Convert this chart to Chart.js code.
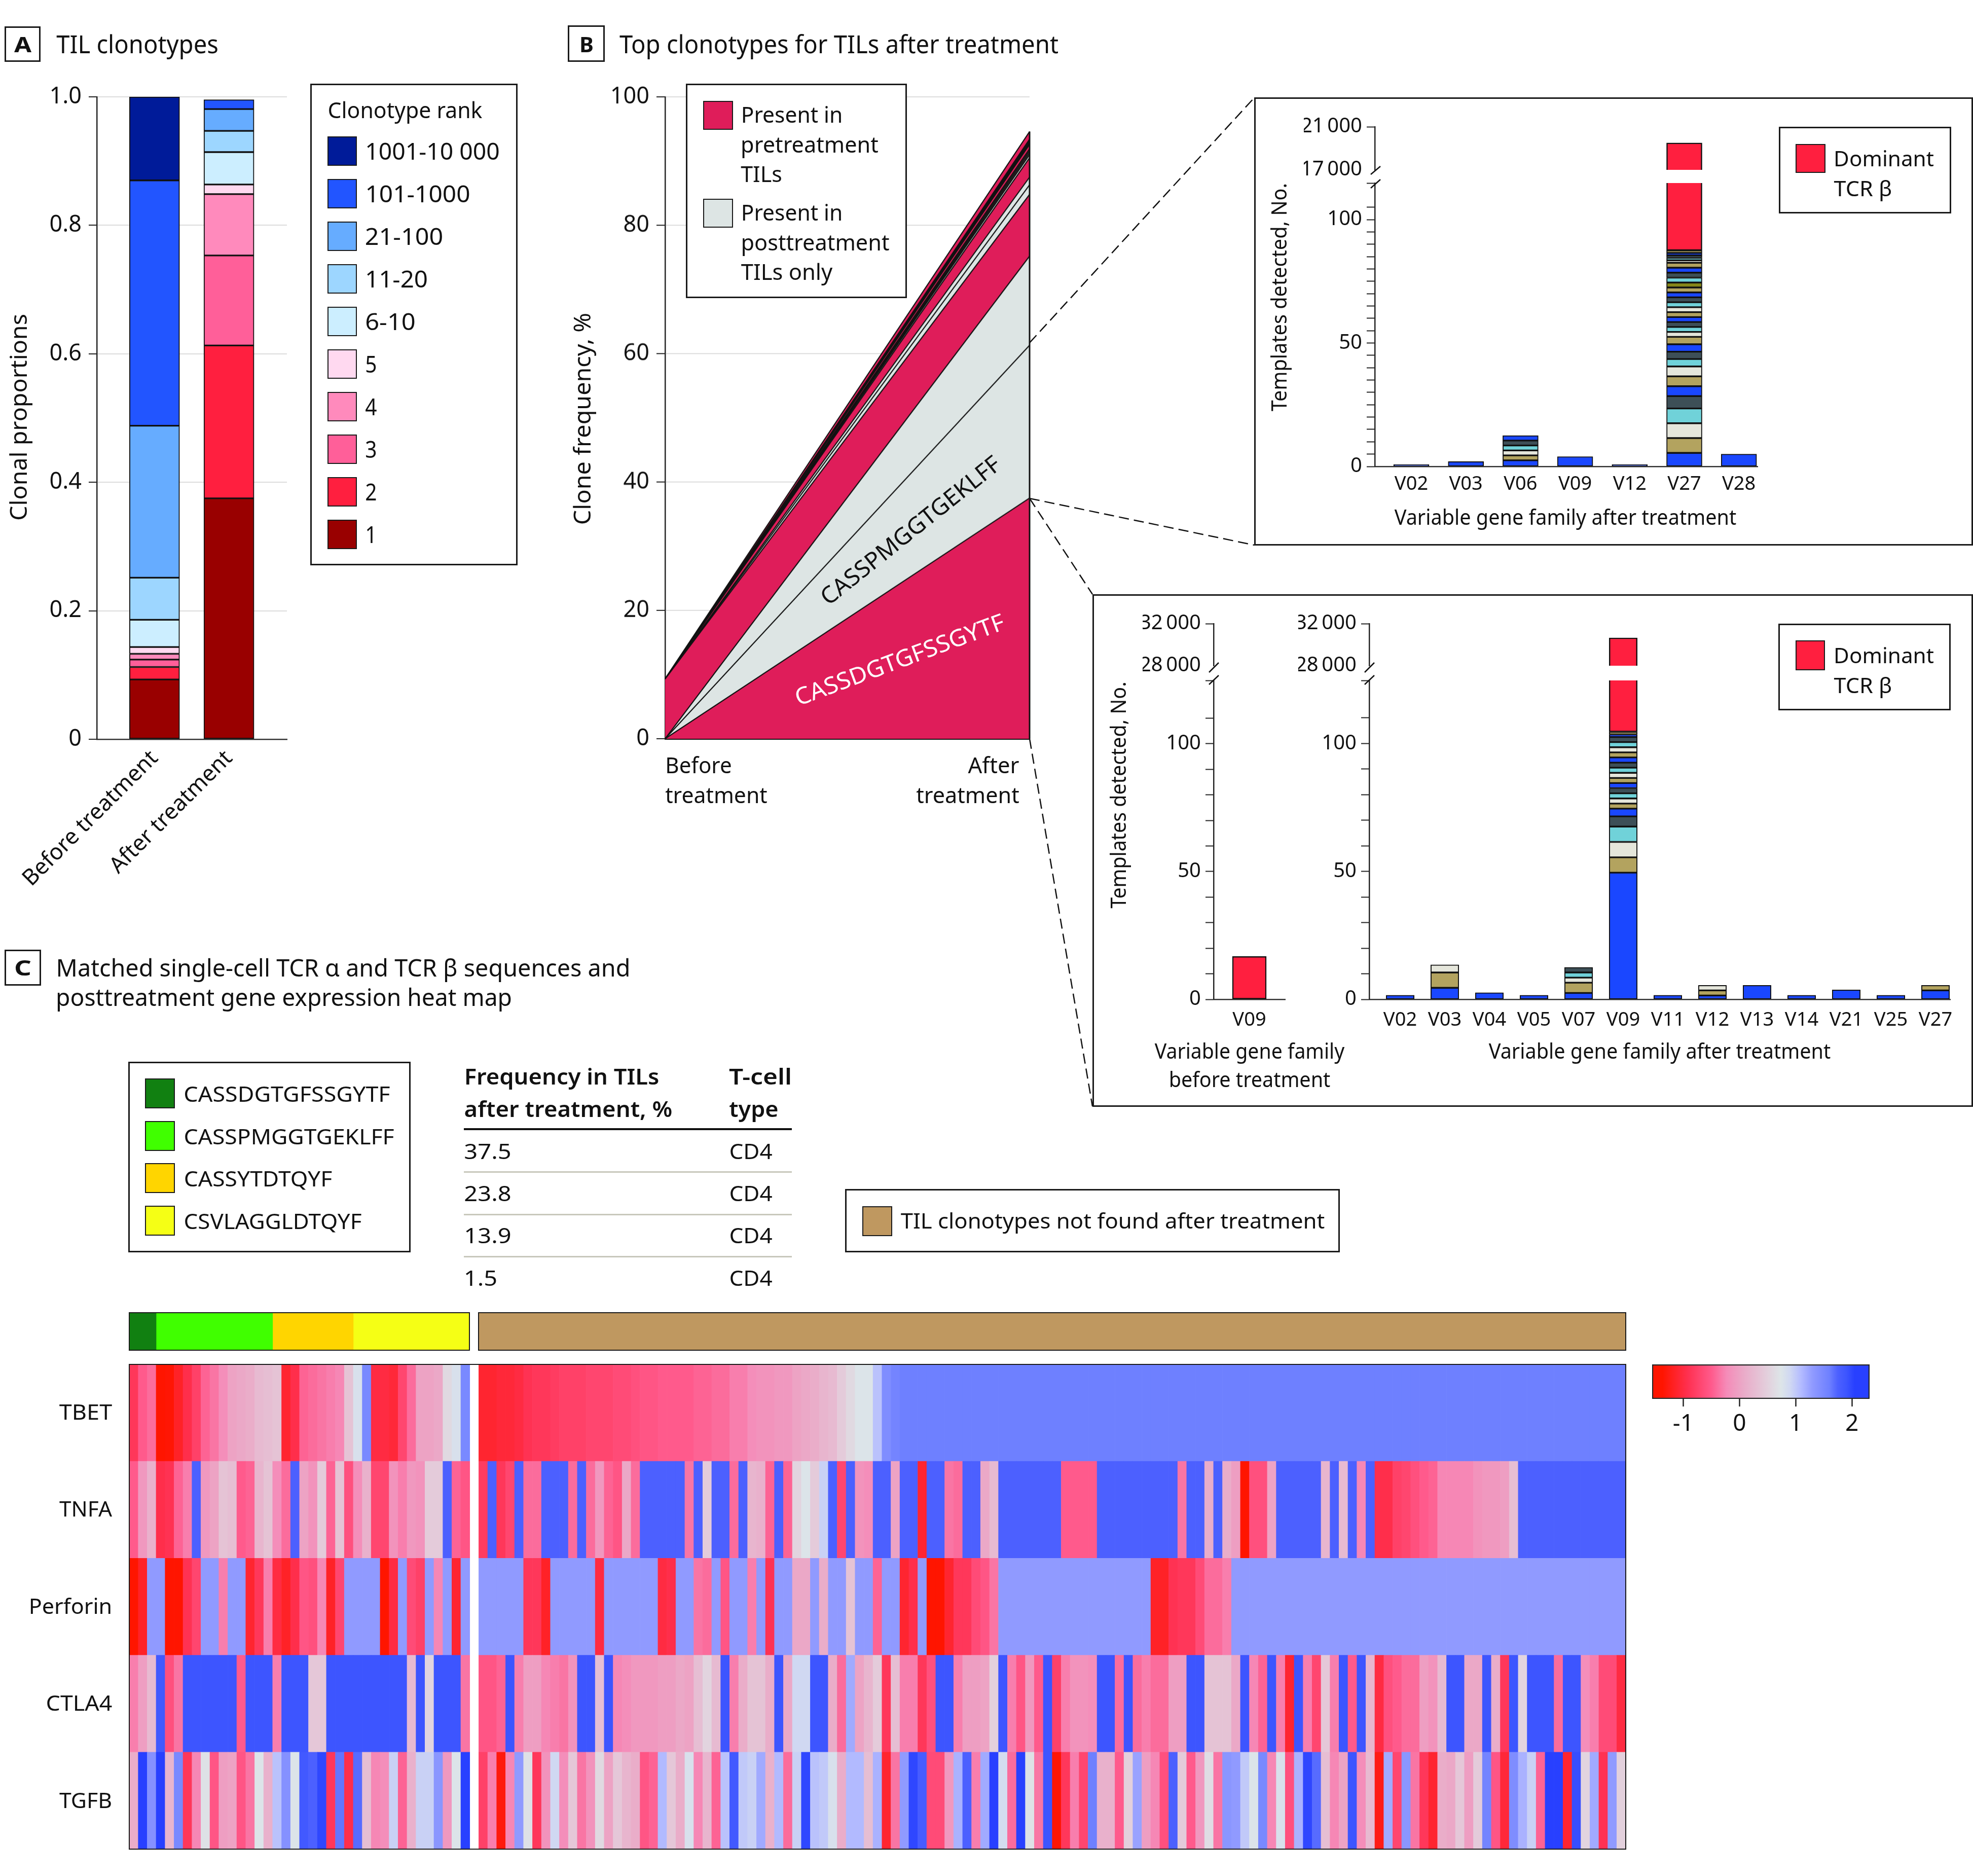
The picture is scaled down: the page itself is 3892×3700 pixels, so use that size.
<!DOCTYPE html>
<html><head><meta charset="utf-8">
<script src="https://cdn.jsdelivr.net/npm/chart.js@4"></script>
<style>
html,body{margin:0;padding:0;background:#fff}
#page{position:relative;width:3892px;height:3700px;overflow:hidden;background:#fff;font-family:"Noto Sans",sans-serif;color:#111}
canvas{position:absolute}
.t{position:absolute;white-space:pre;line-height:1.2}
.b{position:absolute;box-sizing:border-box;border:3px solid #1a1a1a}
svg{position:absolute;left:0;top:0}
</style></head><body><div id="page"></div>
<script>
// ---------- Panel A data ----------
const rankNames=['1','2','3','4','5','6-10','11-20','21-100','101-1000','1001-10 000'];
const rankBefore=[.093,.0195,.0115,.009,.0105,.0425,.0655,.2365,.382,.13];
const rankAfter=[.375,.238,.14,.0955,.015,.0505,.033,.034,.0146,0];
const rankColors=['#990000','#ff1f3f','#ff5f99','#ff8abc','#ffd9f0','#cceeff','#9dd6ff','#66acff','#2255ff','#001b99'];
const treatmentLabels=['Before treatment','After treatment'];
const proportionTicks=[0,.2,.4,.6,.8,1];
// ---------- Panel B data (stack order, before / after) ----------
const cloneBefore=[0,0,0,9.3,0,0,0,0,0,0,0,0,0,0,0,.05];
const cloneAfter=[37.5,23.8,13.9,9.6,1.5,1.2,3,.5,.3,.3,.3,.7,.25,.25,.3,1.2];
const cloneColors=['#df1d5a','#dde5e4','#dde5e4','#df1d5a','#dde5e4','#dde5e4','#df1d5a','#dde5e4','#fff','#fff','#df1d5a','#df1d5a','#111','#111','#111','#df1d5a'];
// ---------- Panel B inset 1 ----------
const famA=['V02','V03','V06','V09','V12','V27','V28'];
const a02=[.8],a03=[2],a06=[2.5,2,2,2,2,2],a09=[4],a12=[.8];
const a27=[5.5,6,6,6,5,4,4,4,3,3,3,3,2,2,2,2,2,2,2,2,2,2,2,2,2,2,2,1,1,1,1,1];
const a28=[5];
const domA=[null,null,null,null,null,19500,null];
// ---------- Panel B inset 2 ----------
const famB=['V02','V03','V04','V05','V07','V09','V11','V12','V13','V14','V21','V25','V27'];
const b02=[1.6],b03=[4.5,6,3],b04=[2.6],b05=[1.6],b07=[2.5,4,2,2,2];
const b09=[49.5,6,6,6,4,3,2,2,2,2,2,2,2,2,2,2,2,2,2,2,1,1];
const b11=[1.6],b12=[1.5,2,2],b13=[5.5],b14=[1.6],b21=[3.7],b25=[1.6],b27=[3.5,2];
const domB=[null,null,null,null,null,30650,null,null,null,null,null,null,null];
const famBefore=['V09'];
const domBefore=[16.8];
// ---------- Panel C heat map ----------
const genes=['TBET','TNFA','Perforin','CTLA4','TGFB'];
const tbetL=[-.85,-.5,-.4,-1.4,-1.35,-1.15,-.95,-.75,-.45,-.35,-.2,0,.05,.1,.25,.3,.35,-1.1,-.95,-.45,-.4,-.35,-.3,-.25,.35,.8,1.5,-1,-1,-1.05,-.7,-.4,0,0,.05,.6,.8,1.5];
const tnfaL=[-.5,-.1,.15,-.95,-.9,-.45,-.3,1.75,-.1,0,.35,.3,-.5,-.45,.2,.35,-.2,-.4,1.75,0,-.15,.45,-.45,.35,-.6,-.2,.15,-.7,-.7,-.15,-.3,-.1,-.15,.45,.45,1.75,-.45,-.55];
const prfL=[-1.4,-1.15,1.3,1.3,-1.45,-1.45,-.9,-.7,1.3,1.3,-.3,1.3,1.3,-1.1,-.85,-.3,-1,-1.15,-.95,-.55,-.6,-.25,-1.15,-.7,1.3,1.3,1.3,1.3,-1.45,-1,1.3,-.65,-.75,1.3,-.25,1.3,-1.1,1.3];
const ctlaL=[-.3,-.05,.25,1.85,-.6,-.35,1.9,1.9,1.9,1.9,1.9,1.9,-.5,1.9,1.9,1.9,-.3,1.9,1.9,1.9,.4,.4,1.9,1.9,1.9,1.9,1.9,1.9,1.9,1.9,1.9,.25,1.9,.55,1.9,1.9,1.9,-.35];
const tgfbL=[.1,2.05,1.4,2.05,.2,1.5,-.85,-.25,.7,-.55,-.05,0,-.55,-.35,.75,.15,1.05,1.4,.75,1.85,1.75,2,-.85,1.65,-.95,1.7,.3,-.25,-.2,.95,-.45,.15,.95,.95,1.35,-.1,.75,2.05];
const tbetR=[-1.1,-1.1,-1.05,-1.05,-1,-.9,-.85,-.85,-.8,-.75,
-.75,-.75,-.7,-.7,-.7,-.65,-.65,-.6,-.55,-.55,
-.5,-.5,-.5,-.5,-.45,-.45,-.4,-.4,-.3,-.3,
-.2,-.15,-.15,-.1,-.1,0,.05,.1,.2,.25,
.45,.6,.75,.75,1.05,1.45,1.55,1.6,1.6,1.6,
1.6,1.6,1.6,1.6,1.6,1.6,1.6,1.6,1.6,1.6,
1.6,1.6,1.6,1.6,1.6,1.6,1.6,1.6,1.6,1.6,
1.6,1.6,1.6,1.6,1.6,1.6,1.6,1.6,1.6,1.6,
1.6,1.6,1.6,1.6,1.6,1.6,1.6,1.6,1.6,1.6,
1.6,1.6,1.6,1.6,1.6,1.6,1.6,1.6,1.6,1.6,
1.6,1.6,1.6,1.6,1.6,1.6,1.6,1.6,1.6,1.6,
1.6,1.6,1.6,1.6,1.6,1.6,1.6,1.6,1.6,1.6,
1.6,1.6,1.6,1.6,1.6,1.6,1.6,1.6];
const tnfaR=[-.8,1.75,-.85,-.7,1.75,-.4,-.4,1.75,1.75,1.75,
-.4,1.75,-.4,-.1,-.45,-.55,.05,-.4,1.75,1.75,
1.75,1.75,1.75,-.35,1.75,.45,1.75,1.75,-.4,1.75,
.2,.15,-.45,1.75,-.45,.55,.75,.45,.95,1.75,
-.7,1.75,-.15,-.2,1.75,1.75,0,1.75,1.75,-1.1,
1.75,1.75,-.35,-.4,1.75,1.75,.05,.25,1.75,1.75,
1.75,1.75,1.75,1.75,1.75,-.5,-.5,-.5,-.5,1.75,
1.75,1.75,1.75,1.75,1.75,1.75,1.75,1.75,-.35,1.75,
1.75,.1,1.75,.1,-.05,-1.4,-.6,-.6,0,1.75,
1.75,1.75,1.75,1.75,.2,1.75,.25,1.75,-.25,1.75,
-.95,-.95,-.75,-.7,-.6,-.5,-.45,-.25,-.25,-.25,
-.25,-.15,-.1,-.1,-.05,.3,1.75,1.75,1.75,1.75,
1.75,1.75,1.75,1.75,1.75,1.75,1.75,1.75];
const prfR=[1.3,1.3,1.3,1.3,1.3,-.85,-.85,-1.15,1.3,1.3,
1.3,1.3,1.3,-1,1.3,1.3,1.3,1.3,1.3,1.3,
-1,-.95,1.3,1.3,-.35,-.4,1.3,-.55,1.3,1.3,
-.3,1.3,-.9,1.3,1.3,.05,.05,1.3,.1,1.3,
1.3,.35,1.3,1.3,-.45,1.3,1.3,-1.1,-.95,1.3,
-1.45,-1.45,-1.1,-.85,-.85,-.65,-.55,-.35,1.3,1.3,
1.3,1.3,1.3,1.3,1.3,1.3,1.3,1.3,1.3,1.3,
1.3,1.3,1.3,1.3,1.3,-1.15,-1.15,-.9,-.85,-.85,
-.65,-.4,-.4,-.3,1.3,1.3,1.3,1.3,1.3,1.3,
1.3,1.3,1.3,1.3,1.3,1.3,1.3,1.3,1.3,1.3,
1.3,1.3,1.3,1.3,1.3,1.3,1.3,1.3,1.3,1.3,
1.3,1.3,1.3,1.3,1.3,1.3,1.3,1.3,1.3,1.3,
1.3,1.3,1.3,1.3,1.3,1.3,1.3,1.3];
const ctlaR=[-.55,-.55,-.45,1.9,-.3,-.05,-.05,-.25,-.3,-.35,
-.15,1.9,1.9,.3,1.9,-.25,-.2,-.1,-.1,-.1,
-.05,-.05,.05,0,.3,.55,.25,1.9,-.3,.1,
.35,.35,.1,1.9,.05,.9,.9,1.9,1.9,.1,
-.4,1.2,0,.2,.45,-.85,.3,-.3,-.3,-.85,
-.6,1.9,1.9,-.3,-.05,-.05,0,.5,1.9,-.3,
-.55,-.1,-.5,1.9,-.75,-.3,-.15,-.15,-.2,1.9,
1.9,-.4,1.9,-.4,-.3,-.4,-.4,-.05,-.05,1.9,
1.9,.35,.35,.35,.05,1.9,-.25,-.45,1.9,-.3,
-1.1,1.9,-.3,-.7,.4,-.3,1.9,-.5,1.9,.2,
-1,-.6,-.5,-.4,-.4,-.05,-.15,.25,1.9,1.9,
.05,.05,1.9,.1,-.85,1.9,.55,1.9,1.9,1.9,
-.4,1.9,1.9,-.2,-.3,-.65,-.65,-1];
const tgfbR=[-.75,-.3,-1.3,-.25,1.3,.7,-.85,-.15,.9,-.2,
.4,-.35,-.15,.6,0,.4,.2,.1,-.55,-.45,
1.1,.4,.1,.8,-.25,.2,-.45,1.05,1.85,1,
.95,1.2,.15,1.1,-.4,.95,2,1.05,1,.8,
.1,1.1,1.1,.3,1.15,-1.1,-.35,1.3,2,1.8,
-.65,-.65,-.1,1.15,1.75,-.3,1.2,2.05,.85,-.4,
2.05,.7,-.35,1.9,-1.35,-.85,-.3,-.7,1.6,.15,
.15,-.5,.5,1.25,-.05,-.25,-.6,1.75,.45,-.5,
-.1,.65,-.35,1.35,1.3,1,.75,1.5,-.25,.8,
-.6,1.15,2,1.7,.3,-.25,0,1.9,-.2,.25,
-1.25,1.2,-.7,1.35,-.35,-.85,-1.1,.1,.05,.4,
-.05,.45,1.55,-.55,-1.05,1.45,1.15,.95,-.45,2.05,
2.05,-1.1,1.95,.55,1.2,-.9,1.3,.5];
const annotNames=['CASSDGTGFSSGYTF','CASSPMGGTGEKLFF','CASSYTDTQYF','CSVLAGGLDTQYF','gap','TIL clonotypes not found after treatment'];
const annotCells=[3,13,9,13,1,128];
const annotColors=['#118011','#40ff00','#ffd500','#f5ff15','rgba(0,0,0,0)','#bf9860'];
const colorbarTicks=[-1,0,1,2];
const tableFreq=['37.5','23.8','13.9','1.5'];
const tableType=['CD4','CD4','CD4','CD4'];

// ---------- helpers ----------
const page=document.getElementById('page');
const FF='"Noto Sans", sans-serif';
const INK='#111';
Chart.defaults.font.family=FF;
Chart.defaults.color=INK;
Chart.defaults.animation=false;
function chart(plot,m,cfg){
  const c=document.createElement('canvas');
  const W=plot.r-plot.l+m.l+m.r,H=plot.b-plot.t+m.t+m.b;
  c.width=W;c.height=H;c.style.left=(plot.l-m.l)+'px';c.style.top=(plot.t-m.t)+'px';c.style.width=W+'px';c.style.height=H+'px';
  page.appendChild(c);
  cfg.options=Object.assign({responsive:false,maintainAspectRatio:false,animation:false,devicePixelRatio:1,
    layout:{padding:{left:cfg.yShown?0:m.l,top:m.t,right:m.r,bottom:cfg.xShown?0:m.b}},
    plugins:{legend:{display:false},tooltip:{enabled:false},title:{display:false}}},cfg.options);
  return new Chart(c,cfg);
}
function yAxis(min,max,step,size,labelFn,w,extra,pad){
  return Object.assign({type:'linear',stacked:true,min,max,
    afterFit(s){s.width=w;s.paddingTop=0;s.paddingBottom=0},
    ticks:{stepSize:step,font:{size},padding:pad||9,color:INK,autoSkip:false,callback:labelFn},
    grid:{drawOnChartArea:false,drawTicks:true,tickLength:16,tickColor:'#222',tickWidth:2},
    border:{display:true,color:'#222',width:2.5}},extra||{});
}
function xLinear(labels,first,step,l,r,size,h,pad,extra){
  return Object.assign({type:'linear',offset:false,stacked:true,min:(l-first)/step,max:(r-first)/step,
    afterBuildTicks(s){s.ticks=labels.map((_,i)=>({value:i}))},
    afterFit(s){s.height=h;s.paddingLeft=0;s.paddingRight=0},
    ticks:{autoSkip:false,font:{size},padding:pad,color:INK,maxRotation:0,minRotation:0,callback:v=>labels[v]},
    grid:{display:false,drawTicks:false,offset:false},
    border:{display:true,color:'#333',width:2.5}},extra||{});
}
function T(str,x0,x1,cy,size,o){
  o=o||{};
  const d=document.createElement('div');d.className='t';d.textContent=str;
  d.style.fontSize=size+'px';d.style.fontWeight=o.w||400;d.style.color=o.c||INK;
  page.appendChild(d);
  const tw=d.offsetWidth,sx=(x1-x0)/tw;
  d.style.left=((x0+x1)/2)+'px';d.style.top=cy+'px';
  d.style.transform='translate(-50%,-50%) rotate('+(o.rot||0)+'deg) scaleX('+sx+')';
  return d;
}
function TL(str,cx,y0,y1,size,o){
  o=o||{};
  const len=y1-y0,cy=(y0+y1)/2;
  T(str,cx-len/2,cx+len/2,cy,size,Object.assign({rot:-90},o));
}
function box(l,t,r,b,bg,bw){
  const d=document.createElement('div');d.className='b';
  d.style.left=l+'px';d.style.top=t+'px';d.style.width=(r-l)+'px';d.style.height=(b-t)+'px';
  if(bg)d.style.background=bg;if(bw)d.style.borderWidth=bw+'px';
  page.appendChild(d);return d;
}
const slotCycle=['#1a47ff','#b3a35f','#e5e6db','#70d2d9','#3d4f57'];
function stackSets(cats,thick,overrides){
  const n=Math.max(...cats.map(a=>a.length)),out=[];
  for(let j=0;j<n;j++){
    const data=[];cats.forEach((a,i)=>{if(a[j]!=null)data.push({x:i,y:a[j]})});
    const col=(overrides&&overrides[j])||slotCycle[j%5];
    out.push({label:'clone '+(j+1),data,backgroundColor:col,borderColor:'#111',borderWidth:2,borderSkipped:false,barThickness:thick});
  }
  return out;
}
function domSet(vals,thick){
  const data=[];vals.forEach((v,i)=>{if(v!=null)data.push({x:i,y:v})});
  return {label:'Dominant TCR β',data,backgroundColor:'#ff1f3f',borderColor:'#111',borderWidth:2.5,borderSkipped:false,barThickness:thick};
}
const thin=v=>{const s=String(v);return s.length>3?s.slice(0,-3)+'\u2009'+s.slice(-3):s};

// ---------- Panel A ----------
const axA=xLinear(treatmentLabels,304.5,147,190.6,566,44,300,12);
axA.ticks.minRotation=45;axA.ticks.maxRotation=45;
chart({l:190.6,r:566,t:190.5,b:1457.5},{l:190,r:10,t:30,b:300},{type:'bar',yShown:true,xShown:true,
  data:{datasets:rankNames.map((n,i)=>({label:n,data:[{x:0,y:rankBefore[i]},{x:1,y:rankAfter[i]}].filter(p=>p.y>0),
    backgroundColor:rankColors[i],borderColor:'#111',borderWidth:2,borderSkipped:false,barThickness:99}))},
  options:{scales:{
    x:axA,
    y:Object.assign(yAxis(0,1,.2,45,v=>v===0?'0':v.toFixed(1),190,null,14),{
      afterBuildTicks(s){s.ticks=proportionTicks.map(v=>({value:v}))},
      grid:{drawOnChartArea:true,color:'#dcdcdc',lineWidth:2,drawTicks:true,tickLength:16,tickColor:'#222',tickWidth:2}})
  }}});

// ---------- Panel B ----------
const edgePlugin={id:'edge',afterDatasetsDraw(ch){
  const {ctx,scales:{x,y}}=ch;const sum=cloneAfter.reduce((a,b)=>a+b,0);
  ctx.save();ctx.strokeStyle='#111';ctx.lineWidth=3;ctx.beginPath();
  ctx.moveTo(x.getPixelForValue(1),y.getPixelForValue(0));ctx.lineTo(x.getPixelForValue(1),y.getPixelForValue(sum));ctx.stroke();ctx.restore();
}};
chart({l:1311.7,r:2031,t:191,b:1456.5},{l:140,r:4,t:30,b:40},{type:'line',yShown:true,xShown:true,plugins:[edgePlugin],
  data:{labels:treatmentLabels,datasets:cloneAfter.map((v,i)=>({label:'clone '+(i+1),data:[cloneBefore[i],v],
    fill:i===0?'origin':'-1',backgroundColor:cloneColors[i],borderColor:'#111',borderWidth:2.2,pointRadius:0,tension:0}))},
  options:{scales:{
    x:{type:'category',offset:false,afterFit(s){s.height=40;s.paddingLeft=0;s.paddingRight=0},ticks:{display:false},grid:{display:false,drawTicks:false},border:{display:true,color:'#111',width:3}},
    y:Object.assign(yAxis(0,100,20,45,v=>v,140,null,14),{grid:{drawOnChartArea:true,color:'#dcdcdc',lineWidth:2,drawTicks:true,tickLength:17,tickColor:'#222',tickWidth:2}})
  }}});

// ---------- Inset 1 ----------
const olive={22:'#858517'};
chart({l:2712,r:3467,t:361,b:920},{l:130,r:6,t:4,b:80},{type:'bar',yShown:true,xShown:true,
  data:{datasets:[...stackSets([a02,a03,a06,a09,a12,a27,a28],70,olive),domSet(domA,70)]},
  options:{scales:{x:xLinear(famA,2784,107.7,2712,3467,38,80,12),
    y:yAxis(0,114.8,5,40,v=>v%50===0?v:'',130)}}});
chart({l:2712,r:3467,t:250,b:335},{l:140,r:6,t:30,b:30},{type:'bar',yShown:true,
  data:{datasets:[domSet(domA,70)]},
  options:{scales:{x:xLinear(famA,2784,107.7,2712,3467,38,0,0,{display:false}),
    y:yAxis(17000,21000,4000,40,thin,140,{grid:{drawOnChartArea:false,drawTicks:true,tickLength:16,tickWidth:2,tickColor:c=>c.tick&&c.tick.value===17000?'rgba(0,0,0,0)':'#222'}})}}});

// ---------- Inset 2 ----------
chart({l:2394,r:2535,t:1342,b:1971},{l:130,r:6,t:4,b:70},{type:'bar',yShown:true,xShown:true,
  data:{datasets:[domSet(domBefore,67)]},
  options:{scales:{x:xLinear(famBefore,2464.5,100,2394,2535,38,70,18),
    y:yAxis(0,124.8,10,40,v=>v%50===0?v:'',130)}}});
chart({l:2394,r:2535,t:1230,b:1313},{l:140,r:6,t:30,b:30},{type:'bar',yShown:true,
  data:{datasets:[]},
  options:{scales:{x:xLinear(famBefore,2464.5,100,2394,2535,38,0,0,{display:false,border:{display:false}}),
    y:yAxis(28000,32000,4000,40,thin,140,{grid:{drawOnChartArea:false,drawTicks:true,tickLength:16,tickWidth:2,tickColor:c=>c.tick&&c.tick.value===28000?'rgba(0,0,0,0)':'#222'}})}}});
chart({l:2701,r:3847,t:1342,b:1971},{l:130,r:6,t:4,b:70},{type:'bar',yShown:true,xShown:true,
  data:{datasets:[...stackSets([b02,b03,b04,b05,b07,b09,b11,b12,b13,b14,b21,b25,b27],55.5),domSet(domB,55.5)]},
  options:{scales:{x:xLinear(famB,2762,88,2701,3847,38,70,18),
    y:yAxis(0,124.6,10,40,v=>v%50===0?v:'',130)}}});
chart({l:2701,r:3847,t:1230,b:1313},{l:140,r:6,t:30,b:30},{type:'bar',yShown:true,
  data:{datasets:[domSet(domB,55.5)]},
  options:{scales:{x:xLinear(famB,2762,88,2701,3847,38,0,0,{display:false}),
    y:yAxis(28000,32000,4000,40,thin,140,{grid:{drawOnChartArea:false,drawTicks:true,tickLength:16,tickWidth:2,tickColor:c=>c.tick&&c.tick.value===28000?'rgba(0,0,0,0)':'#222'}})}}});

// ---------- Heat map ----------
const stops=[[-1.554,255,21,0],[-1.37,255,21,0],[-.92,255,48,80],[-.5,255,90,140],[-.23,245,139,184],[.07,234,170,200],[.49,227,207,220],[.74,221,229,232],[.9,208,216,242],[1.09,180,188,255],[1.3,144,154,255],[1.6,110,128,255],[1.75,76,96,255],[1.9,61,85,255],[2.05,40,64,255],[2.315,40,64,255]];
function zcol(z){
  if(z==null)return 'rgba(0,0,0,0)';
  for(let i=1;i<stops.length;i++){if(z<=stops[i][0]){const a=stops[i-1],b=stops[i],t=(z-a[0])/((b[0]-a[0])||1);
    return 'rgb('+[1,2,3].map(k=>Math.round(a[k]+(b[k]-a[k])*t)).join(',')+')';}}
  return 'rgb(40,64,255)';
}
const rows={TBET:[...tbetL,null,...tbetR],TNFA:[...tnfaL,null,...tnfaR],Perforin:[...prfL,null,...prfR],CTLA4:[...ctlaL,null,...ctlaR],TGFB:[...tgfbL,null,...tgfbR]};
const columns=rows.TBET.map((_,i)=>String(i+1));
chart({l:255,r:3207,t:2691,b:3647},{l:0,r:0,t:0,b:0},{type:'bar',
  data:{labels:columns,datasets:[...genes].reverse().map(g=>({label:g,data:rows[g].map(v=>v==null?null:1),
    backgroundColor:rows[g].map(zcol),borderWidth:0,barPercentage:1,categoryPercentage:1}))},
  options:{scales:{x:{stacked:true,display:false,offset:true},y:{stacked:true,display:false,min:0,max:5}}}});
// annotation strip
chart({l:255,r:3207,t:2589,b:2663},{l:0,r:0,t:0,b:0},{type:'bar',
  data:{labels:['clonotype'],datasets:annotCells.map((v,i)=>({label:annotNames[i],data:[v],backgroundColor:annotColors[i],borderWidth:0,barPercentage:1,categoryPercentage:1}))},
  options:{indexAxis:'y',scales:{x:{stacked:true,display:false,min:0,max:167},y:{stacked:true,display:false}}}});
// colour bar
chart({l:3259,r:3688,t:2691,b:2759},{l:30,r:30,t:2,b:90},{type:'bar',xShown:true,
  data:{labels:['z'],datasets:[{label:'z score',data:[[-1.554,2.315]],barPercentage:1,categoryPercentage:1,borderColor:'#222',borderWidth:2.5,borderSkipped:false,
    backgroundColor(c){const ch=c.chart,a=ch.chartArea;if(!a)return '#fff';
      const g=ch.ctx.createLinearGradient(a.left,0,a.right,0);
      stops.forEach(s=>g.addColorStop((s[0]+1.554)/3.869,'rgb('+s[1]+','+s[2]+','+s[3]+')'));return g;}}]},
  options:{indexAxis:'y',scales:{
    x:{type:'linear',min:-1.554,max:2.315,afterBuildTicks(s){s.ticks=colorbarTicks.map(v=>({value:v}))},afterFit(s){s.height=90;s.paddingLeft=0;s.paddingRight=0},
       ticks:{font:{size:46},padding:7,color:INK,maxRotation:0,autoSkip:false},
       grid:{drawOnChartArea:false,drawTicks:true,tickLength:15,tickColor:'#222',tickWidth:2.5},border:{display:false}},
    y:{display:false}}}});

// ---------- overlays: connectors ----------
const svgNS='http://www.w3.org/2000/svg';
const svg=document.createElementNS(svgNS,'svg');svg.setAttribute('width',3892);svg.setAttribute('height',3700);
function ln(x1,y1,x2,y2,dash,w){const l=document.createElementNS(svgNS,'line');
  l.setAttribute('x1',x1);l.setAttribute('y1',y1);l.setAttribute('x2',x2);l.setAttribute('y2',y2);
  l.setAttribute('stroke','#111');l.setAttribute('stroke-width',w||2.5);if(dash)l.setAttribute('stroke-dasharray','20 10');svg.appendChild(l);}
ln(2031,676,2474,193,true);ln(2031,983,2474,1075,true);ln(2031,983,2155,1172,true);ln(2031,1457,2155,2182,true);
ln(2704,344,2723,328);ln(2704,371,2723,354);
ln(2385,1326,2404,1307);ln(2385,1350,2404,1332);
ln(2692,1326,2711,1307);ln(2692,1350,2711,1332);
page.appendChild(svg);

// ---------- panel boxes and letters ----------
box(9,52,80,122);T('A',28,62,87,42,{w:700});
box(1120,50,1193,122);T('B',1143,1171,87,42,{w:700});
box(9,1873,81,1944);T('C',28,62,1908,42,{w:700});
T('TIL clonotypes',111,431,86,50);
T('Top clonotypes for TILs after treatment',1222,2088,86,50);
T('Matched single-cell TCR α and TCR β sequences and',110,1243,1908,48);
T('posttreatment gene expression heat map',110,1010,1966,48);

// Panel A labels + legend
TL('Clonal proportions',36,619,1027,46);
box(612,165,1021,1115);
T('Clonotype rank',646,951,216,44);
const rl=[...rankNames].reverse(),rc=[...rankColors].reverse();
const rw={'1001-10 000':266,'101-1000':207,'21-100':154,'11-20':124,'6-10':100,'5':23,'4':23,'3':23,'2':23,'1':23};
rl.forEach((n,i)=>{const y=269+i*84;box(646,y,704,y+58,rc[i],2.5);T(n,720,720+rw[n],y+29,46);});

// Panel B labels + legend
TL('Clone frequency, %',1148,617,1035,46);
T('Before',1312,1443,1508,44);T('treatment',1312,1514,1567,44);
T('After',1909,2010,1508,44);T('treatment',1807,2011,1567,44);
box(1353,165,1789,588,'#fff');
box(1387,199,1446,256,'#df1d5a',2.5);box(1387,392,1446,449,'#dde5e4',2.5);
T('Present in',1461,1662,225,44);T('pretreatment',1461,1733,284,44);T('TILs',1461,1543,342,44);
T('Present in',1461,1662,418,44);T('posttreatment',1461,1754,477,44);T('TILs only',1461,1642,535,44);
T('CASSPMGGTGEKLFF',1795-220,1795+220,1045,46,{rot:-38.6});
T('CASSDGTGFSSGYTF',1774-219,1774+219,1300,46,{rot:-20.4,c:'#fff'});

// inset boxes
box(2474,192,3892,1076);box(2155,1172,3892,2183);
TL('Templates detected, No.',2522,361,811,42);
T('Variable gene family after treatment',2750,3425,1019,42);
box(3509,250,3849,421);box(3542,284,3601,341,'#ff1f3f',2.5);
T('Dominant',3617,3815,312,42);T('TCR β',3617,3732,371,42);
TL('Templates detected, No.',2205,1344,1791,42);
T('Variable gene family',2278,2652,2072,42);T('before treatment',2305,2624,2128,42);
T('Variable gene family after treatment',2936,3611,2072,42);
box(3508,1230,3848,1401);box(3542,1263,3600,1322,'#ff1f3f',2.5);
T('Dominant',3617,3815,1292,42);T('TCR β',3617,3732,1351,42);

// Panel C legends & table
box(253,2094,810,2470);
const lw=[769,777,655,713];
annotNames.slice(0,4).forEach((n,i)=>{const y=[2127,2211,2294,2378][i];box(286,y,345,y+59,annotColors[i],2.5);T(n,362,lw[i],y+30,42);});
T('Frequency in TILs',915,1300,2122,44,{w:600});T('after treatment, %',915,1326,2186,44,{w:600});
T('T-cell',1438,1562,2122,44,{w:600});T('type',1438,1535,2186,44,{w:600});
const rule=(y,h,c)=>{const d=document.createElement('div');d.style.cssText='position:absolute;left:915px;width:647px;top:'+y+'px;height:'+h+'px;background:'+c;page.appendChild(d)};
rule(2225,4,'#111');[2310,2394,2477].forEach(y=>rule(y,2.5,'#c8c8bc'));
const fw=[93,93,93,66];
tableFreq.forEach((f,i)=>{const y=[2270,2353,2436,2520][i];T(f,915,915+fw[i],y,42);T(tableType[i],1438,1523,y,42);});
box(1667,2345,2643,2470);box(1701,2379,1760,2438,annotColors[5],2.5);
T(annotNames[5],1776,2613,2407,42);

// annotation + heat map frames
box(254,2588,927,2664,null,2.5);box(943,2588,3208,2664,null,2.5);
box(254,2690,3208,3648,null,2.5);
const gw={TBET:104,TNFA:104,Perforin:164,CTLA4:131,TGFB:104};
genes.forEach((g,i)=>{T(g,221-gw[g],221,2784+i*191.4,42)});
</script>
</body></html>
